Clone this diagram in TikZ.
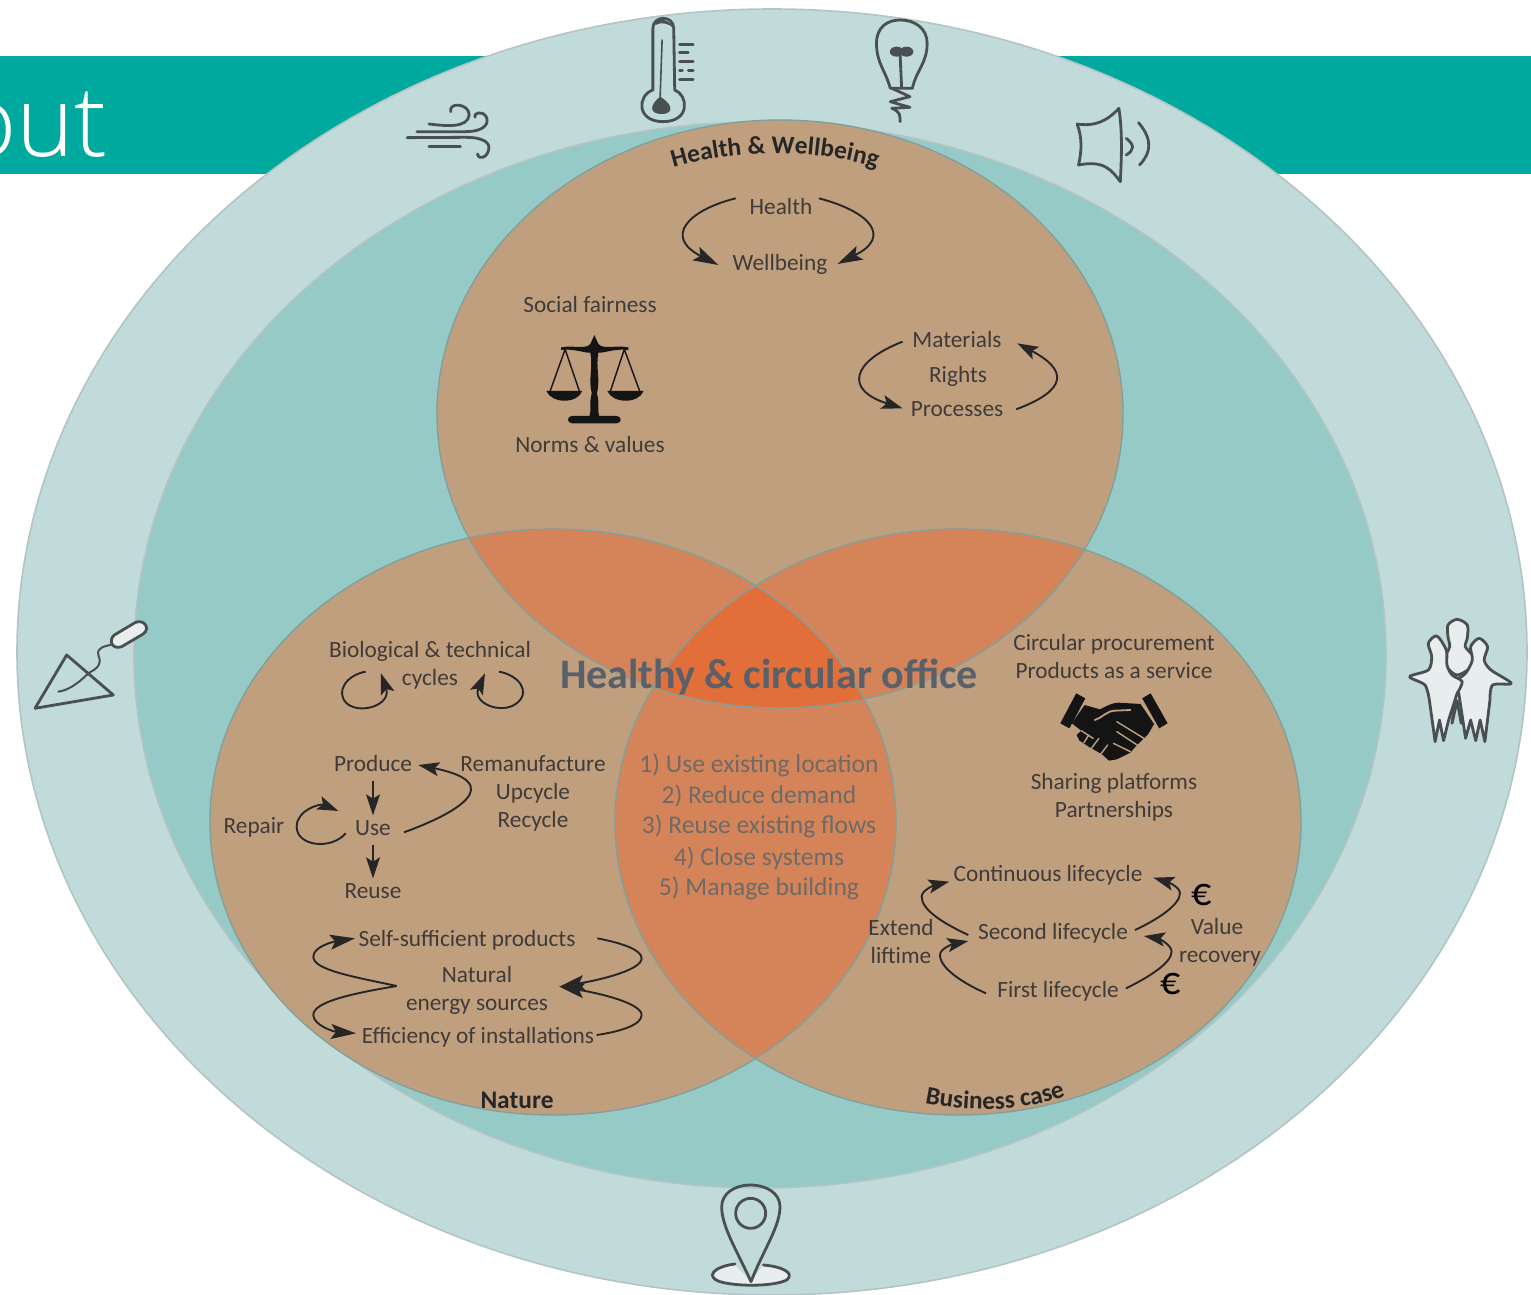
\documentclass[tikz,border=0pt]{standalone}
\usepackage{fontspec}
\usetikzlibrary{arrows.meta,decorations.text}
\setmainfont{Carlito}
\newfontfamily\titlefont{Open Sans Light}
\definecolor{outerc}{HTML}{C0DBDA}
\definecolor{innerc}{HTML}{96CAC6}
\definecolor{brownc}{HTML}{C09F7E}
\definecolor{twoc}{HTML}{D5845A}
\definecolor{threec}{HTML}{E26E3A}
\definecolor{bandc}{HTML}{00A99D}
\definecolor{edgec}{HTML}{B4C4C4}
\definecolor{circlec}{HTML}{82A09A}
\definecolor{txtc}{HTML}{3F3B38}
\definecolor{midc}{HTML}{6E6A66}
\definecolor{hcoc}{HTML}{59606A}
\definecolor{iconc}{HTML}{4A5051}
\definecolor{lightc}{HTML}{E8EEEE}
\newcommand\hb{\fontsize{12.7}{14}\selectfont\bfseries\color{black!85}}
\tikzset{
  txt/.style={font=\fontsize{11.65}{13}\selectfont,text=txtc,inner sep=2pt,text height=8pt,text depth=2.5pt,yshift=-1.1pt},
  midtxt/.style={font=\fontsize{12.8}{14}\selectfont,text=midc,inner sep=1pt,text height=8.5pt,text depth=2.5pt,yshift=-1pt},
  lab/.style={font=\fontsize{12.7}{14}\selectfont\bfseries,text=black!85,inner sep=1pt},
  arr/.style={draw=black!85,line width=0.95pt,-{Stealth[length=12.5pt,width=7.5pt,inset=2.5pt]}},
  tip/.style={draw=black!85,line width=0.95pt,-{Stealth[length=10.5pt,width=7pt,inset=2.2pt]}},
  icon/.style={draw=iconc,line width=1.4pt,line cap=round,line join=round},
  ringo/.style={fill=outerc,draw=edgec,line width=0.8pt},
  ringi/.style={fill=innerc,draw=edgec,line width=0.8pt}
}
\begin{document}
\begin{tikzpicture}[x=0.5pt,y=-0.5pt]
\useasboundingbox (0,0) rectangle (1531,1295);
% band and title
\fill[bandc] (0,56) rectangle (1531,174);
\begin{scope}
\clip (0,56) rectangle (1531,174);
\node[anchor=base east,inner sep=0pt,text=white,font=\titlefont\fontsize{49}{52}\selectfont] (title) at (108,156) {out};
\end{scope}
% rings
\begin{scope}
\clip (0,0) rectangle (1531,1295);
\path[ringo] (772,652) ellipse [x radius=755,y radius=643];
\end{scope}
\path[ringi] (760,655) ellipse [x radius=626,y radius=533];
% three circles
\def\ct{(780,414) ellipse [x radius=343,y radius=294]}
\def\cl{(553,822) ellipse [x radius=343,y radius=293]}
\def\cr{(958,822) ellipse [x radius=343,y radius=293]}
\fill[brownc] \ct; \fill[brownc] \cl; \fill[brownc] \cr;
\begin{scope}\clip \ct; \fill[twoc] \cl; \fill[twoc] \cr; \end{scope}
\begin{scope}\clip \cl; \fill[twoc] \cr; \end{scope}
\begin{scope}\clip \ct; \clip \cl; \fill[threec] \cr; \end{scope}
\draw[circlec,line width=0.7pt] \ct; \draw[circlec,line width=0.7pt] \cl; \draw[circlec,line width=0.7pt] \cr;
% curved labels
\path[decorate,decoration={text along path,text align=center,text={|\hb|Health {\&} Wellbeing}}]
  (660,172) .. controls (730,147) and (820,147) .. (890,172);
\path[decorate,decoration={text along path,text align=center,text={|\hb|Business case}}]
  (916,1101) .. controls (968,1113) and (1030,1113) .. (1074,1092);
\node[lab] (nature) at (517,1100) {Nature};
% top circle text
\node[txt] (health) at (781,207) {Health};
\node[txt] (wellbeing) at (780,263) {Wellbeing};
\node[txt] (social) at (590,305) {Social fairness};
\node[txt] (norms) at (590,445) {Norms \& values};
\node[txt] (materials) at (957,340) {Materials};
\node[txt] (rights) at (958,375) {Rights};
\node[txt] (processes) at (957,409) {Processes};
% left circle text
\node[txt] (bio) at (430,650) {Biological \& technical};
\node[txt] (cycles) at (430,678) {cycles};
\node[txt] (produce) at (373,764) {Produce};
\node[txt] (reman) at (533,764) {Remanufacture};
\node[txt] (upcycle) at (533,792) {Upcycle};
\node[txt] (recycle) at (533,820) {Recycle};
\node[txt] (repair) at (254,826) {Repair};
\node[txt] (use) at (373,828) {Use};
\node[txt] (reuse) at (373,891) {Reuse};
\node[txt] (self) at (467,939) {Self-sufficient products};
\node[txt] (natural) at (477,975) {Natural};
\node[txt] (energy) at (477,1003) {energy sources};
\node[txt] (eff) at (478,1036) {Efficiency of installations};
% right circle text
\node[txt] (procure) at (1114,643) {Circular procurement};
\node[txt] (service) at (1114,671) {Products as a service};
\node[txt] (sharing) at (1114,782) {Sharing platforms};
\node[txt] (partners) at (1114,810) {Partnerships};
\node[txt] (contl) at (1048,874) {Continuous lifecycle};
\node[txt] (second) at (1053,932) {Second lifecycle};
\node[txt] (first) at (1058,990) {First lifecycle};
\node[txt] (extend) at (901,928) {Extend};
\node[txt] (liftime) at (901,956) {liftime};
\node[txt] (value) at (1217,927) {Value};
\node[txt] (recovery) at (1220,955) {recovery};
\node[text=black,inner sep=0pt,font=\fontsize{20}{22}\selectfont] (eurotop) at (1202,895) {€};
\node[text=black,inner sep=0pt,font=\fontsize{20}{22}\selectfont] (eurolow) at (1171,984) {€};
% centre text
\node[midtxt] (s1) at (759,764) {1) Use existing location};
\node[midtxt] (s2) at (759,795) {2) Reduce demand};
\node[midtxt] (s3) at (759,825) {3) Reuse existing flows};
\node[midtxt] (s4) at (759,857) {4) Close systems};
\node[midtxt] (s5) at (759,887) {5) Manage building};
\node[inner sep=0pt,text=hcoc,font=\fontsize{21}{24}\selectfont\bfseries] (hco) at (769,677) {Healthy \& circular office};
% arrows top circle
\begin{scope}[shift={(500,180)},xscale=0.37,yscale=0.3333]
\coordinate (ha) at (637,55); \coordinate (hb) at (590,255);
\coordinate (hc) at (862,55); \coordinate (hd) at (912,252);
\coordinate (ma) at (1088,485); \coordinate (mb) at (1088,685);
\coordinate (pa) at (1395,688); \coordinate (pb) at (1398,490);
\draw[arr] (ha) .. controls (510,90) and (440,170) .. (hb);
\draw[arr] (hc) .. controls (1000,95) and (1060,170) .. (hd);
\draw[tip] (ma) .. controls (950,545) and (930,630) .. (mb);
\draw[tip] (pa) .. controls (1535,630) and (1535,570) .. (pb);
% scales icon
\fill[black!92] (165,502) .. controls (200,495) and (235,510) .. (245,490) -- (255,465) -- (265,490) .. controls (275,510) and (310,495) .. (347,502) -- (347,510) .. controls (310,505) and (280,520) .. (266,518) .. controls (258,560) and (272,600) .. (262,640) .. controls (270,670) and (262,690) .. (268,708) -- (315,708) .. controls (330,708) and (330,730) .. (315,730) -- (195,730) .. controls (180,730) and (180,708) .. (195,708) -- (242,708) .. controls (248,690) and (240,670) .. (248,640) .. controls (238,600) and (252,560) .. (244,518) .. controls (230,520) and (200,505) .. (165,510) -- cycle;
\draw[black!92,line width=0.7pt] (135,635) -- (176,508) -- (215,635);
\draw[black!92,line width=0.7pt] (298,635) -- (336,508) -- (378,635);
\fill[black!92] (125,633) -- (222,633) .. controls (210,672) and (140,672) .. (125,633) -- cycle;
\fill[black!92] (290,633) -- (388,633) .. controls (375,672) and (305,672) .. (290,633) -- cycle;
\end{scope}
% arrows left circle
\begin{scope}[shift={(200,620)},scale=0.3333]
\coordinate (la) at (497,155); \coordinate (lb) at (543,160);
\coordinate (lc) at (897,155); \coordinate (ld) at (855,160);
\coordinate (ra) at (437,640); \coordinate (rb) at (415,573);
\coordinate (ua) at (612,637); \coordinate (ub) at (655,435);
\draw[tip] (la) .. controls (440,165) and (405,215) .. (440,250) .. controls (480,285) and (575,255) .. (lb);
\draw[tip] (lc) .. controls (955,165) and (995,215) .. (950,250) .. controls (905,285) and (815,250) .. (ld);
\draw[tip] (ra) .. controls (395,690) and (290,680) .. (290,620) .. controls (290,570) and (360,550) .. (rb);
\draw[tip] (ua) .. controls (770,580) and (925,490) .. (ub);
\draw[tip] (produce) -- (use);
\draw[tip] (use) -- (reuse);
\end{scope}
\begin{scope}[shift={(280,910)},scale=0.3333]
\coordinate (nl) at (350,228); \coordinate (sl) at (225,85); \coordinate (el) at (228,370);
\coordinate (sr) at (952,85); \coordinate (er) at (950,375); \coordinate (nr) at (838,230);
\draw[arr] (nl) .. controls (220,200) and (100,180) .. (100,140) .. controls (100,110) and (160,95) .. (sl);
\draw[arr] (nl) .. controls (220,250) and (100,275) .. (100,315) .. controls (100,345) and (160,365) .. (el);
\draw[arr] (sr) .. controls (1030,100) and (1085,120) .. (1085,145) .. controls (1085,180) and (960,210) .. (nr);
\draw[arr] (er) .. controls (1020,365) and (1085,345) .. (1085,315) .. controls (1085,280) and (960,250) .. (nr);
\end{scope}
% arrows right circle
\begin{scope}[shift={(860,840)},scale=0.3333]
\coordinate (c1) at (325,285); \coordinate (c2) at (268,125);
\coordinate (c3) at (378,460); \coordinate (c4) at (325,303);
\coordinate (c5) at (825,270); \coordinate (c6) at (880,113);
\coordinate (c7) at (798,445); \coordinate (c8) at (852,288);
\draw[tip] (c1) .. controls (250,250) and (185,210) .. (185,170) .. controls (185,150) and (225,135) .. (c2);
\draw[tip] (c3) .. controls (310,430) and (240,385) .. (240,345) .. controls (240,325) and (280,312) .. (c4);
\draw[tip] (c5) .. controls (890,240) and (960,195) .. (960,160) .. controls (960,140) and (920,125) .. (c6);
\draw[tip] (c7) .. controls (860,415) and (935,370) .. (935,335) .. controls (935,315) and (895,295) .. (c8);
\end{scope}
% handshake and people
\begin{scope}[shift={(1000,610)},xscale=0.3386,yscale=0.3333]
\fill[black!92] (225,250) -- (252,265) -- (205,355) -- (178,340) -- cycle;
\fill[black!92] (445,250) -- (420,265) -- (470,355) -- (495,340) -- cycle;
\fill[black!92] (250,285) -- (295,298) .. controls (320,285) and (335,278) .. (350,278) -- (415,282) -- (455,342) -- (438,372) -- (400,410) -- (385,428) -- (345,448) -- (322,452) -- (300,432) -- (265,412) -- (235,392) -- (226,375) -- (240,362) -- (212,340) -- cycle;
\draw[brownc,line width=0.9pt,line cap=round] (280,330) .. controls (300,325) and (315,302) .. (340,302) -- (385,300);
\draw[brownc,line width=0.7pt,line cap=round] (345,335) -- (425,385);
\draw[brownc,line width=0.7pt,line cap=round] (345,365) -- (405,405);
\draw[brownc,line width=0.7pt,line cap=round] (335,400) -- (385,425);
\draw[brownc,line width=0.7pt,line cap=round] (240,362) -- (275,385);
\draw[brownc,line width=0.7pt,line cap=round] (262,375) -- (248,398);
\draw[brownc,line width=0.7pt,line cap=round] (292,385) -- (270,415);
\draw[brownc,line width=0.7pt,line cap=round] (318,405) -- (298,432);
% people
\draw[icon,fill=lightc] plot[smooth cycle,tension=0.5] coordinates {(1350,28) (1380,45) (1380,85) (1374,110) (1397,140) (1387,175) (1350,195) (1323,175) (1313,145) (1328,110) (1323,80) (1323,45)};
\draw[icon,fill=lightc] (1345,255) -- (1335,340) -- (1350,272) -- (1362,340) -- (1370,250) -- cycle;
\draw[icon,fill=lightc] plot[smooth,tension=0.5] coordinates {(1355,250) (1345,215) (1375,190) (1395,150) (1390,110) (1415,85) (1440,110) (1430,150) (1450,180) (1510,220) (1455,225) (1447,270)} -- (1432,395) -- (1418,330) -- (1405,392) -- (1390,330) -- (1375,385) -- cycle;
\draw[icon,fill=lightc] plot[smooth,tension=0.5] coordinates {(1350,250) (1365,215) (1335,195) (1320,165) (1318,120) (1290,78) (1265,100) (1275,140) (1265,180) (1210,200) (1255,225) (1268,270)} -- (1285,395) -- (1298,330) -- (1310,392) -- (1325,330) -- cycle;
\end{scope}
% icons on the ring
\begin{scope}[shift={(0,0)},xscale=0.4847,yscale=0.3333]
% thermometer
\draw[icon] (1347,270) -- (1347,85) .. controls (1347,45) and (1390,45) .. (1390,85) -- (1392,270) .. controls (1420,285) and (1425,365) .. (1368,365) .. controls (1312,365) and (1315,285) .. (1347,270) -- cycle;
\draw[icon,line width=0.8pt] (1366,120) -- (1362,290);
\fill[iconc] (1362,290) .. controls (1395,320) and (1385,345) .. (1362,342) .. controls (1340,340) and (1340,315) .. (1362,290) -- cycle;
\fill[iconc] (1352,60) .. controls (1360,55) and (1385,60) .. (1390,85) .. controls (1380,70) and (1365,65) .. (1352,75) -- cycle;
\draw[icon] (1402,133) -- (1430,133);
\draw[icon] (1402,158) -- (1420,158);
\draw[icon] (1402,184) -- (1430,184);
\draw[icon] (1402,212) -- (1408,212);
\draw[icon] (1420,212) -- (1430,212);
\draw[icon] (1402,238) -- (1430,238);
% wind
\draw[icon] (885,372) .. controls (920,378) and (965,385) .. (968,345) .. controls (968,310) and (925,305) .. (930,335);
\draw[icon] (860,395) -- (960,395) .. controls (1000,395) and (1010,370) .. (1003,350) .. controls (995,330) and (975,340) .. (980,352);
\draw[icon] (840,413) -- (960,412) .. controls (1000,412) and (1012,430) .. (1008,450) .. controls (1005,475) and (985,480) .. (985,462);
\draw[icon] (885,440) -- (950,440);
\end{scope}
\begin{scope}[shift={(760,0)},xscale=0.4916,yscale=0.3333]
% bulb
\draw[icon] (265,265) .. controls (255,210) and (237,190) .. (237,130) .. controls (237,80) and (260,60) .. (285,60) .. controls (315,60) and (340,85) .. (340,130) .. controls (340,190) and (318,210) .. (310,265) -- (265,265);
\draw[icon] (285,165) -- (288,260);
\fill[iconc] (278,155) ellipse [x radius=14,y radius=15];
\fill[iconc] (298,155) ellipse [x radius=14,y radius=15];
\draw[icon] (268,265) -- (305,290) -- (265,305) -- (305,322) -- (268,325) .. controls (285,335) and (285,345) .. (285,365);
% speaker
\draw[icon] (645,372) .. controls (680,380) and (705,365) .. (730,325) .. controls (738,400) and (735,480) .. (733,545) .. controls (715,510) and (700,480) .. (648,495) .. controls (655,450) and (655,410) .. (645,372) -- cycle;
\draw[icon] (745,415) .. controls (762,435) and (762,450) .. (745,465);
\draw[icon] (770,368) .. controls (800,420) and (795,460) .. (772,495);
\end{scope}
% trowel
\begin{scope}[shift={(0,600)},scale=0.3333]
\draw[icon] (200,165) -- (340,285) -- (105,325) -- cycle;
\draw[icon,line width=1pt] (340,132) .. controls (315,140) and (290,140) .. (295,165) .. controls (310,200) and (280,210) .. (265,220) .. controls (230,255) and (200,272) .. (175,275);
\draw[icon,fill=lightc] (343,105) -- (405,68) .. controls (430,55) and (455,85) .. (428,103) -- (365,140) .. controls (335,150) and (325,120) .. (343,105) -- cycle;
\end{scope}
% pin
\begin{scope}[shift={(680,1170)},scale=0.3333]
\fill[lightc] (165,285) .. controls (95,295) and (90,325) .. (120,335) .. controls (170,350) and (280,350) .. (320,330) .. controls (345,310) and (310,290) .. (250,285) -- (213,335) -- cycle;
\draw[icon] (165,282) .. controls (100,290) and (75,320) .. (120,335) .. controls (170,350) and (280,350) .. (320,330) .. controls (345,310) and (310,290) .. (250,285);
\draw[icon] (213,335) .. controls (170,240) and (125,170) .. (125,110) .. controls (125,70) and (165,45) .. (210,45) .. controls (260,45) and (300,70) .. (300,110) .. controls (300,170) and (250,240) .. (213,335) -- cycle;
\draw[icon] (212,130) circle [radius=45];
\end{scope}
\end{tikzpicture}
\end{document}
